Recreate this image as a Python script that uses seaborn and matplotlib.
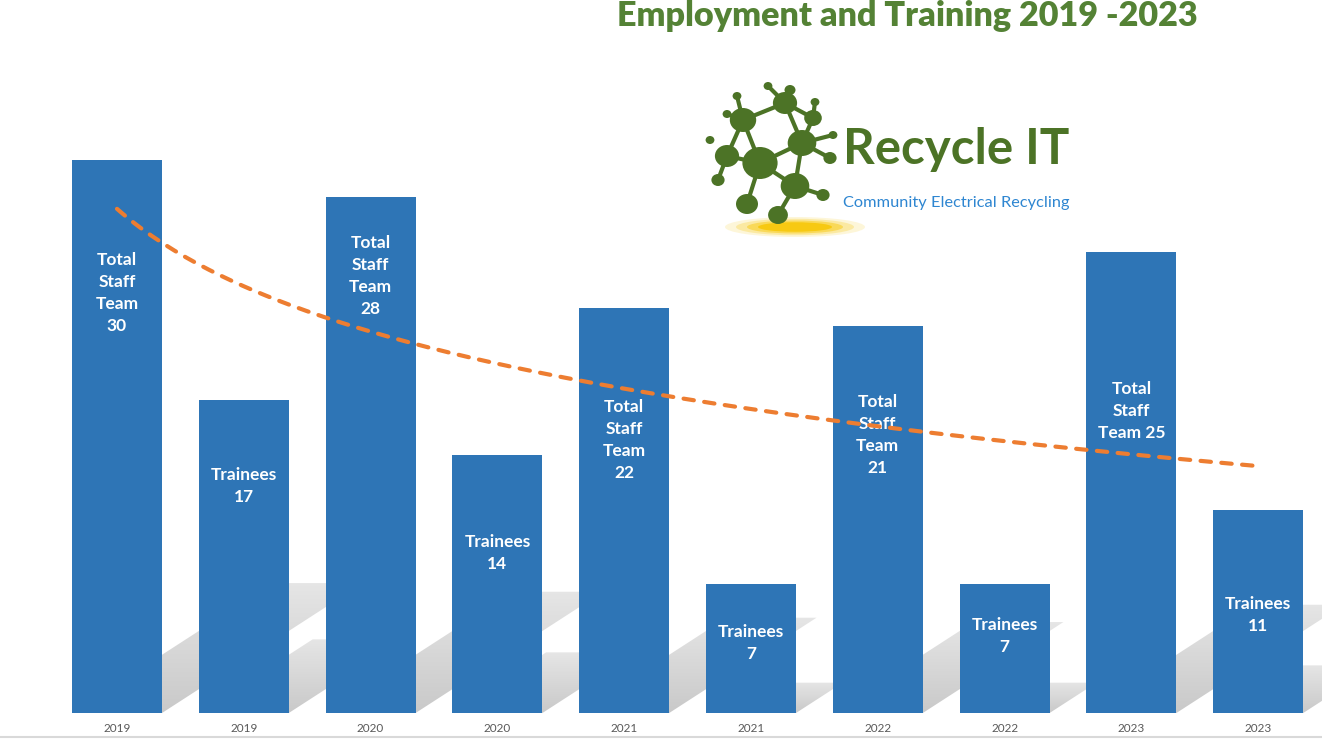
import matplotlib
matplotlib.use("Agg")
import matplotlib.pyplot as plt
from matplotlib.patches import Ellipse, Polygon
import numpy as np
import pandas as pd
import seaborn as sns

# chart values
year_labels = ["2019", "2019", "2020", "2020", "2021", "2021", "2022", "2022", "2023", "2023"]
values = [30, 17, 28, 14, 22, 7, 21, 7, 25, 11]
bar_texts = [
    "Total\nStaff\nTeam\n30", "Trainees\n17",
    "Total\nStaff\nTeam\n28", "Trainees\n14",
    "Total\nStaff\nTeam\n22", "Trainees\n7",
    "Total\nStaff\nTeam\n21", "Trainees\n7",
    "Total\nStaff\nTeam 25", "Trainees\n11",
]
# where each label sits inside its bar (manual placement, data units)
label_y = [22.8, 12.3, 23.7, 8.7, 14.8, 3.8, 15.1, 4.2, 16.4, 5.3]

BLUE = "#2E75B6"
ORANGE = "#ED7D31"
GREEN = "#548235"
BAR_W = 0.71

sns.set_theme(style="white")
plt.rcParams["font.family"] = ["Lato", "DejaVu Sans"]

W, H = 1322, 739
fig = plt.figure(figsize=(W / 100, H / 100), dpi=100)
ax = fig.add_axes([53.6 / W, 26 / H, 1268 / W, 700.3 / H])

df = pd.DataFrame({"slot": range(len(values)), "value": values})

# perspective shadows behind the bars, derived from each bar's height,
# filled with a gradient that fades toward the far end
slope = 0.2247
fade = np.zeros((64, 1, 4))
fade[..., :3] = 0.78
fade[:, 0, 3] = np.linspace(0.95, 0.45, 64)
for i, v in enumerate(values):
    sh = 0.235 * v
    xl, xr = i - BAR_W / 2, i + BAR_W / 2
    poly = Polygon([(xl, 0), (xr, 0), (xr + sh * slope, sh), (xl + sh * slope, sh)],
                   closed=True, facecolor="none", edgecolor="none", transform=ax.transData)
    ax.add_patch(poly)
    im = ax.imshow(fade, extent=[xl, xr + sh * slope, 0, sh], origin="lower",
                   aspect="auto", interpolation="bilinear", zorder=1)
    im.set_clip_path(poly)

sns.barplot(data=df, x="slot", y="value", color=BLUE, saturation=1,
            width=BAR_W, linewidth=0, edgecolor=BLUE, ax=ax, zorder=2)

for i, (txt, yy) in enumerate(zip(bar_texts, label_y)):
    ax.text(i, yy, txt, ha="center", va="center", color="white",
            fontsize=12.5, fontweight="bold", linespacing=1.47, zorder=3)

# logarithmic trendline over all bars
xs = np.arange(1, len(values) + 1)
b, a = np.polyfit(np.log(xs), values, 1)
xf = np.linspace(1, len(values), 200)
ax.plot(xf - 1, a + b * np.log(xf), color=ORANGE, lw=3, ls=(0, (2.5, 2.5)),
        dash_capstyle="round", zorder=4)

ax.set_xlim(-0.5, len(values) - 0.5)
ax.set_ylim(0, 38)
ax.set_xticks(range(len(values)))
ax.set_xticklabels(year_labels, fontsize=8.5, color="#595959")
ax.tick_params(axis="x", length=0, pad=7)
ax.set_yticks([])
ax.set_xlabel("")
ax.set_ylabel("")
for s in ax.spines.values():
    s.set_visible(False)

# overlay in pixel coordinates for title and logo
ov = fig.add_axes([0, 0, 1, 1], zorder=5)
ov.set_xlim(0, W)
ov.set_ylim(H, 0)
ov.axis("off")
ov.patch.set_alpha(0)

ov.text(907, 16, "Employment and Training 2019 -2023", ha="center", va="center",
        color=GREEN, fontsize=24.6, fontweight="heavy")

# logo: glow, molecule, wordmark
for k, al in enumerate([0.15, 0.25, 0.45, 0.8]):
    ov.add_patch(Ellipse((795, 227), 140 - k * 22, 20 - k * 3.5,
                         color="#F7C600", alpha=al, lw=0))

LG = "#4C7326"
nodes = [(743, 120, 12), (785, 103, 11), (813, 118, 8), (802, 143, 13),
         (760, 163, 16), (727, 156, 11), (795, 186, 13), (747, 204, 10),
         (778, 215, 9), (823, 195, 6), (830, 158, 6), (718, 180, 6),
         (710, 140, 4), (768, 86, 4), (790, 90, 5), (737, 96, 4),
         (727, 114, 4), (815, 102, 4), (833, 135, 4)]
edges = [(0, 1), (1, 2), (2, 3), (1, 3), (0, 4), (3, 4), (0, 5), (4, 5),
         (4, 6), (3, 6), (4, 7), (6, 8), (6, 9), (3, 10), (5, 11), (0, 16),
         (1, 14), (0, 15), (2, 17), (3, 18), (1, 13)]
for p, q in edges:
    ov.plot([nodes[p][0], nodes[q][0]], [nodes[p][1], nodes[q][1]],
            color=LG, lw=3, solid_capstyle="round")
for x, y, r in nodes:
    ov.add_patch(Ellipse((x, y), 2 * r * 1.1, 2 * r, color=LG, lw=0))

ov.text(843, 150, "Recycle IT", ha="left", va="center", color=LG,
        fontsize=35.5, fontweight="bold")
ov.text(843, 203, "Community Electrical Recycling", ha="left", va="center",
        color="#2E86D1", fontsize=11.8)

ov.plot([0, W], [737, 737], color="#d9d9d9", lw=1.5)

fig.savefig("out.png", dpi=100)
